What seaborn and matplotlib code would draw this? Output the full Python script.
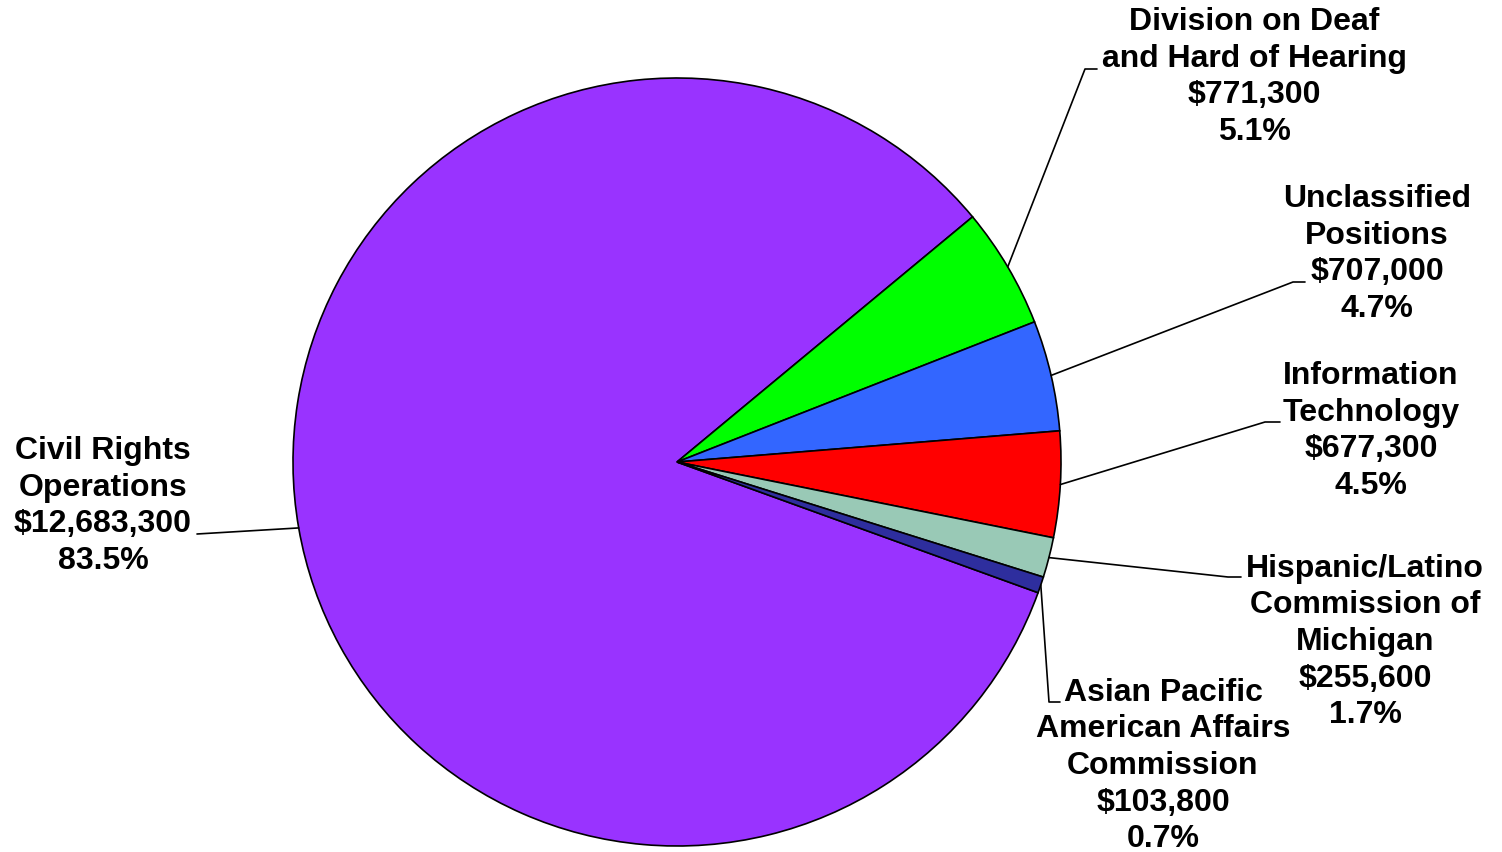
import numpy as np
import matplotlib
matplotlib.use("Agg")
import matplotlib.pyplot as plt
import seaborn as sns

# budget lines (clockwise from Civil Rights)
names = ["Civil Rights\nOperations",
         "Division on Deaf\nand Hard of Hearing",
         "Unclassified\nPositions",
         "Information\nTechnology",
         "Hispanic/Latino\nCommission of\nMichigan",
         "Asian Pacific\nAmerican Affairs\nCommission"]
amounts = [12683300, 771300, 707000, 677300, 255600, 103800]
pct_labels = ["83.5%", "5.1%", "4.7%", "4.5%", "1.7%", "0.7%"]
colors = ["#9933FF", "#00FF00", "#3366FF", "#FF0000", "#99C9B6", "#2E2E9E"]

sns.set_theme(style="white")
plt.rcParams["font.family"] = ["Liberation Sans", "DejaVu Sans"]

fig = plt.figure(figsize=(15.02, 8.53), dpi=100)
ax = fig.add_axes([0, 0, 1, 1])

wedges, _ = ax.pie(amounts, colors=colors, startangle=340.1, counterclock=False,
                   radius=1.0, wedgeprops=dict(edgecolor="black", linewidth=1.2))

ax.set_xlim(-677 / 384, (1502 - 677) / 384)
ax.set_ylim(-390 / 384, 463 / 384)
ax.set_aspect("auto")
ax.axis("off")

def px(x, y):
    # pixel position -> data coords
    return (x - 677) / 384, (463 - y) / 384

# label placement: text centre, knee of leader line, end of leader line (pixels)
layout = [
    dict(text=(103, 506), knee=(197, 535), end=(197, 535)),
    dict(text=(1254, 77), knee=(1085, 70), end=(1097, 70)),
    dict(text=(1377, 254), knee=(1293, 283), end=(1305, 283)),
    dict(text=(1371, 431), knee=(1265, 423), end=(1280, 423)),
    dict(text=(1365, 642), knee=(1228, 578), end=(1241, 578)),
    dict(text=(1163, 766), knee=(1049, 703), end=(1060, 703)),
]

for w, name, amt, pct, lay in zip(wedges, names, amounts, pct_labels, layout):
    mid = np.deg2rad((w.theta1 + w.theta2) / 2)
    x0, y0 = np.cos(mid) * w.r, np.sin(mid) * w.r
    kx, ky = px(*lay["knee"])
    ex, ey = px(*lay["end"])
    ax.plot([x0, kx, ex], [y0, ky, ey], color="black", lw=1.2, zorder=3)
    tx, ty = px(*lay["text"])
    ax.text(tx, ty, f"{name}\n${amt:,}\n{pct}", ha="center", va="center",
            fontsize=23, fontweight="bold", linespacing=1.29, color="black")

fig.savefig("out.png", dpi=100)
